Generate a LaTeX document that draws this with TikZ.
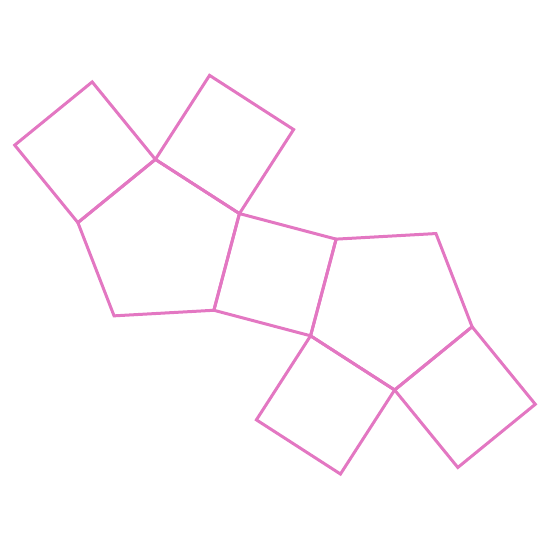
\documentclass[tikz,border=0pt]{standalone}
\usetikzlibrary{calc}
\definecolor{tabpink}{HTML}{E377C2}
\begin{document}
\begin{tikzpicture}[x=1pt,y=1pt,
  poly/.style={draw=tabpink,line width=3pt,line join=miter}]
\useasboundingbox (0,0) rectangle (550,550);
% centre of the middle square (centre of symmetry)
\coordinate (c) at (275,275.3);
% middle square
\coordinate (G) at ($(c)+(120.2:70.71)$);
\coordinate (J) at ($(G)+(-14.8:100)$);
\coordinate (H) at ($(G)+(-104.8:100)$);
\coordinate (N) at ($(J)+(-104.8:100)$);
% left pentagon
\coordinate (I) at ($(H)+(-176.8:100)$);
\coordinate (C) at ($(I)+(-248.8:100)$);
\coordinate (D) at ($(C)+(-320.8:100)$);
% squares on the left pentagon
\coordinate (A) at ($(D)+(129.2:100)$);
\coordinate (B) at ($(C)+(129.2:100)$);
\coordinate (E) at ($(D)+(57.2:100)$);
\coordinate (F) at ($(G)+(57.2:100)$);
% point reflections through c
\coordinate (K) at ($(c)!-1!(I)$);
\coordinate (L) at ($(c)!-1!(C)$);
\coordinate (M) at ($(c)!-1!(D)$);
\coordinate (R) at ($(c)!-1!(A)$);
\coordinate (Q) at ($(c)!-1!(B)$);
\coordinate (P) at ($(c)!-1!(E)$);
\coordinate (O) at ($(c)!-1!(F)$);
% shapes
\draw[poly] (A)--(B)--(C)--(D)--cycle;
\draw[poly] (D)--(E)--(F)--(G)--cycle;
\draw[poly] (D)--(G)--(H)--(I)--(C)--cycle;
\draw[poly] (G)--(J)--(N)--(H)--cycle;
\draw[poly] (J)--(K)--(L)--(M)--(N)--cycle;
\draw[poly] (N)--(M)--(P)--(O)--cycle;
\draw[poly] (M)--(L)--(Q)--(R)--cycle;
\end{tikzpicture}
\end{document}
